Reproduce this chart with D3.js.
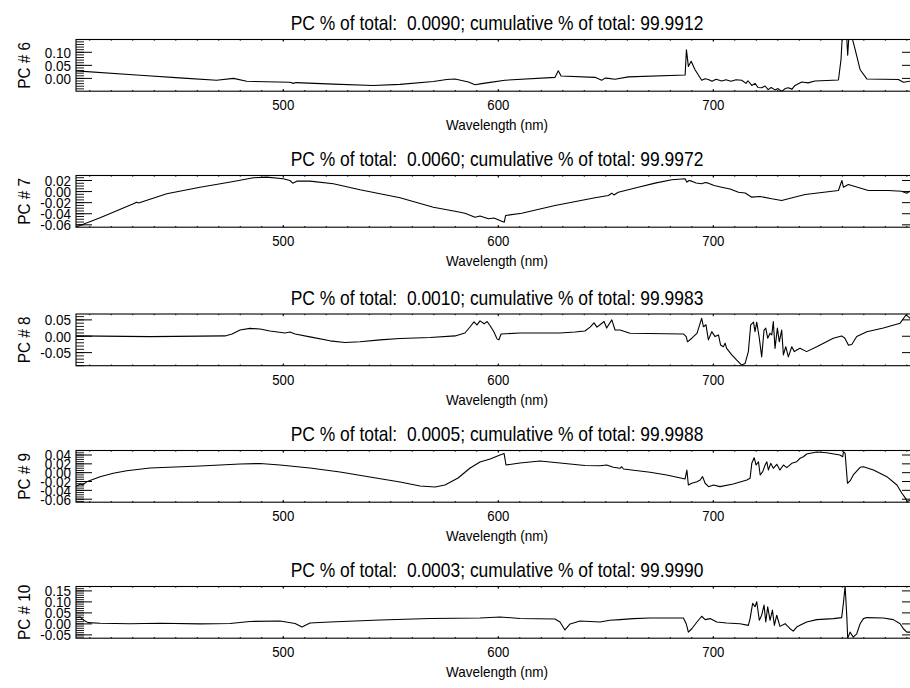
<!DOCTYPE html>
<html><head><meta charset="utf-8">
<script src="https://cdn.jsdelivr.net/npm/d3@7"></script>
<style>body{margin:0;background:#fff;overflow:hidden}text{font-family:"Liberation Sans",Arial,Helvetica,sans-serif;fill:#000}</style>
</head><body>
<svg id="chart" width="910" height="688"></svg>
<script>
// ---------- data ----------
const panelNames = ["PC # 6", "PC # 7", "PC # 8", "PC # 9", "PC # 10"];
const pctTotal = ["0.0090", "0.0060", "0.0010", "0.0005", "0.0003"];
const cumPct = ["99.9912", "99.9972", "99.9983", "99.9988", "99.9990"];
const xTickValues = [500, 600, 700];
const xTitle = "Wavelength (nm)";
const wlRange = [403.6, 795.2];
const yRanges = [[-0.049, 0.149], [-0.0643, 0.029], [-0.090, 0.068], [-0.0668, 0.0502], [-0.065, 0.170]];
const yMajorSteps = [0.05, 0.02, 0.05, 0.02, 0.05];
const yMinorCounts = [5, 4, 5, 4, 5];

// [wavelength nm, PC loading]
const pc6 = [[403.6,0.029],[433.4,0.012],[453.5,0.001],[469.0,-0.007],[476.8,0.000],[483.0,-0.011],[503.1,-0.015],[504.7,-0.019],[505.9,-0.016],[523.3,-0.022],[541.9,-0.027],[554.3,-0.023],[569.8,-0.012],[576.0,-0.004],[579.9,-0.002],[586.1,-0.014],[589.2,-0.024],[592.3,-0.020],[595.4,-0.016],[603.1,-0.007],[626.4,0.004],[627.9,0.029],[629.2,0.009],[645.0,0.004],[648.1,-0.007],[649.7,0.001],[651.2,0.000],[654.3,-0.003],[660.5,0.006],[686.9,0.013],[687.5,0.110],[688.4,0.046],[689.7,0.066],[691.5,0.033],[694.6,-0.007],[696.2,-0.001],[697.7,-0.004],[699.4,-0.011],[701.3,-0.003],[703.9,-0.010],[705.9,-0.005],[708.2,-0.011],[710.6,-0.005],[713.2,-0.007],[715.2,-0.019],[716.1,-0.009],[717.9,-0.027],[719.4,-0.019],[720.8,-0.035],[722.5,-0.036],[724.1,-0.029],[725.5,-0.043],[726.9,-0.035],[728.7,-0.044],[730.1,-0.039],[731.8,-0.050],[733.4,-0.039],[734.9,-0.036],[736.6,-0.041],[738.0,-0.027],[741.1,-0.014],[744.1,-0.017],[747.3,-0.010],[758.2,-0.006],[759.4,0.073],[760.0,0.165],[762.1,0.150],[762.5,0.089],[763.1,0.165],[764.4,0.160],[765.9,0.113],[768.3,0.033],[771.4,-0.002],[786.1,-0.004],[788.4,-0.015],[791.5,-0.011],[795.2,-0.007]];

const pc7 = [[403.6,-0.0639],[414.8,-0.0473],[430.3,-0.0220],[431.8,-0.0191],[432.7,-0.0206],[445.8,-0.0040],[461.3,0.0079],[476.8,0.0182],[486.1,0.0249],[492.3,0.0260],[500.0,0.0231],[503.1,0.0200],[504.4,0.0152],[506.3,0.0188],[512.4,0.0188],[523.3,0.0141],[535.7,0.0032],[554.3,-0.0112],[569.8,-0.0282],[579.9,-0.0354],[584.5,-0.0390],[589.2,-0.0462],[591.5,-0.0440],[595.4,-0.0491],[598.0,-0.0477],[601.6,-0.0534],[602.8,-0.0552],[603.4,-0.0431],[610.9,-0.0390],[626.4,-0.0251],[645.0,-0.0112],[651.2,-0.0070],[652.8,-0.0029],[653.8,-0.0061],[655.8,-0.0011],[665.1,0.0079],[672.9,0.0152],[680.7,0.0213],[686.9,0.0231],[687.7,0.0170],[688.7,0.0200],[690.0,0.0188],[692.0,0.0155],[694.6,0.0141],[696.2,0.0164],[697.7,0.0152],[700.4,0.0110],[703.9,0.0079],[707.8,0.0047],[711.7,-0.0011],[714.8,-0.0025],[717.9,-0.0101],[721.7,-0.0088],[727.2,-0.0130],[731.8,-0.0161],[734.9,-0.0130],[742.7,-0.0052],[758.2,0.0020],[759.8,0.0200],[760.5,0.0079],[762.8,0.0128],[765.9,0.0092],[772.1,0.0020],[781.4,0.0020],[787.6,0.0007],[790.0,-0.0029],[791.5,0.0007],[795.2,0.0020]];

const pc8 = [[403.6,0.001],[438.0,-0.001],[472.9,0.001],[476.2,0.007],[479.9,0.019],[484.5,0.024],[489.2,0.022],[493.8,0.016],[500.8,0.010],[503.1,0.013],[505.5,0.007],[512.4,-0.002],[521.7,-0.014],[528.7,-0.019],[535.7,-0.017],[545.0,-0.011],[554.3,-0.007],[568.3,-0.004],[579.9,0.001],[584.5,0.010],[586.9,0.029],[588.7,0.044],[590.1,0.035],[591.5,0.047],[593.4,0.038],[594.8,0.045],[596.2,0.032],[598.0,0.013],[599.4,-0.008],[600.3,-0.011],[601.3,0.007],[610.1,0.010],[628.7,0.010],[635.7,0.013],[640.3,0.016],[642.7,0.028],[644.5,0.041],[645.9,0.028],[647.3,0.035],[649.2,0.045],[650.4,0.025],[652.8,0.050],[654.3,0.019],[656.6,0.019],[661.3,0.009],[686.1,0.007],[687.4,-0.001],[688.0,-0.017],[690.0,-0.006],[692.4,0.009],[693.9,0.040],[694.6,0.055],[695.4,0.029],[696.6,0.035],[697.7,-0.011],[699.3,0.014],[700.8,-0.001],[702.4,0.004],[703.4,-0.027],[704.7,-0.032],[705.5,-0.021],[706.2,-0.037],[708.6,-0.057],[710.9,-0.073],[713.2,-0.088],[714.8,-0.083],[716.3,-0.047],[717.4,0.035],[718.7,0.043],[719.4,0.014],[720.2,0.043],[721.4,-0.006],[722.5,-0.063],[723.6,0.019],[724.4,0.025],[725.3,-0.006],[726.4,0.009],[727.2,0.004],[727.9,0.045],[728.7,-0.037],[729.8,0.025],[730.7,-0.017],[731.8,0.019],[732.6,-0.057],[733.7,-0.032],[734.9,-0.063],[736.5,-0.032],[737.7,-0.047],[738.8,-0.042],[740.3,-0.037],[743.4,-0.047],[748.1,-0.032],[755.8,-0.006],[759.7,0.001],[761.2,-0.006],[762.8,-0.027],[764.4,-0.025],[766.7,-0.001],[771.4,0.014],[779.1,0.025],[786.9,0.040],[789.6,0.065],[790.7,0.060],[791.5,0.055],[795.2,0.050]];

const pc9 = [[403.6,-0.0316],[405.5,-0.0255],[406.9,-0.0278],[408.6,-0.0203],[414.8,-0.0090],[420.9,-0.0014],[427.2,0.0045],[438.0,0.0106],[461.3,0.0151],[479.9,0.0196],[489.2,0.0208],[498.5,0.0174],[512.4,0.0106],[526.4,0.0016],[540.3,-0.0097],[554.3,-0.0210],[563.6,-0.0300],[570.6,-0.0323],[575.2,-0.0278],[581.3,-0.0120],[586.9,0.0106],[591.5,0.0242],[596.2,0.0309],[600.8,0.0400],[602.7,0.0433],[603.6,0.0174],[610.1,0.0219],[619.4,0.0264],[628.7,0.0219],[640.3,0.0163],[647.3,0.0158],[650.4,0.0174],[653.5,0.0122],[656.6,0.0099],[657.4,0.0135],[658.2,0.0084],[670.6,0.0009],[678.3,-0.0052],[686.9,-0.0142],[687.7,0.0061],[688.4,-0.0278],[690.0,-0.0239],[692.4,-0.0203],[693.9,-0.0165],[695.0,-0.0090],[696.2,-0.0239],[697.8,-0.0316],[700.1,-0.0278],[703.1,-0.0316],[709.3,-0.0255],[715.6,-0.0165],[717.1,-0.0126],[717.9,0.0212],[719.0,0.0339],[719.9,0.0174],[721.0,0.0248],[721.8,-0.0052],[723.0,0.0023],[724.1,0.0174],[724.9,0.0248],[725.6,0.0061],[726.7,0.0212],[727.9,0.0099],[729.5,0.0190],[731.0,0.0061],[732.6,0.0174],[734.2,0.0113],[736.5,0.0212],[738.8,0.0248],[740.3,0.0325],[741.9,0.0361],[743.4,0.0422],[748.1,0.0467],[752.7,0.0451],[758.9,0.0400],[760.2,0.0361],[760.5,0.0474],[761.3,0.0438],[762.4,-0.0239],[763.6,-0.0187],[765.1,-0.0052],[768.3,0.0122],[769.8,0.0135],[774.5,0.0061],[780.7,-0.0090],[785.4,-0.0278],[787.7,-0.0465],[789.2,-0.0564],[790.3,-0.0655],[791.5,-0.0616],[795.2,-0.0661]];

const pc10 = [[403.6,0.0284],[405.5,0.0316],[407.0,0.0180],[409.2,0.0058],[414.8,0.0030],[428.7,0.0008],[442.7,0.0030],[461.3,-0.0001],[475.2,0.0021],[484.5,0.0112],[498.5,0.0135],[505.5,0.0021],[508.7,-0.0138],[512.4,0.0044],[521.7,0.0089],[545.0,0.0180],[568.3,0.0248],[591.5,0.0271],[600.8,0.0316],[610.1,0.0248],[626.4,0.0225],[628.7,0.0089],[631.0,-0.0274],[633.4,-0.0001],[638.0,0.0135],[647.3,0.0087],[651.9,0.0164],[656.6,0.0195],[662.8,0.0241],[670.6,0.0271],[686.1,0.0271],[687.4,0.0010],[688.4,-0.0374],[690.0,-0.0220],[692.4,0.0087],[694.6,0.0348],[696.2,0.0195],[698.5,0.0241],[701.6,0.0087],[706.2,0.0041],[712.4,0.0010],[716.3,-0.0066],[717.1,0.0241],[718.3,0.0932],[719.4,0.0778],[720.2,0.1009],[721.4,0.0164],[722.5,0.0394],[723.6,0.0855],[724.4,0.0087],[725.3,0.0778],[726.4,0.0164],[727.5,0.0625],[728.4,-0.0066],[729.5,0.0394],[731.0,-0.0113],[733.4,0.0010],[735.7,-0.0220],[737.2,-0.0328],[738.8,-0.0143],[740.3,-0.0066],[743.4,0.0087],[748.1,0.0195],[755.8,0.0241],[759.7,0.0287],[760.5,0.0932],[761.3,0.172],[762.1,0.0318],[762.5,-0.066],[763.6,-0.0374],[765.1,-0.0604],[766.7,-0.0450],[768.3,0.0010],[769.8,0.0241],[771.4,0.0287],[779.1,0.0271],[783.7,0.0195],[786.9,0.0010],[788.4,-0.0220],[790.0,-0.0374],[791.5,-0.0374],[795.2,-0.0400]];

const series = [pc6, pc7, pc8, pc9, pc10];

// ---------- layout ----------
const left = 76, right = 918, boxH = 51.7;
const tops = [39.5, 175.5, 314, 450.5, 586.5];
const FONT_TICK = 15, FONT_TITLE = 20, FONT_YT = 17;

const svg = d3.select("#chart");
const defs = svg.append("defs");
const x = d3.scaleLinear().domain(wlRange).range([left, right]);

function txt(g, str, tx, ty, size, anchor, sx, rot, dy) {
  return g.append("text")
    .attr("transform", `translate(${tx},${ty}) rotate(${rot || 0}) scale(${sx},1)`)
    .attr("text-anchor", anchor)
    .attr("dy", dy || 0)
    .style("font-size", size + "px")
    .text(str);
}
function ln(g, x1, y1, x2, y2, w) {
  g.append("line").attr("x1", x1).attr("y1", y1).attr("x2", x2).attr("y2", y2)
    .attr("stroke", "#000").attr("stroke-width", w || 1);
}

series.forEach((data, i) => {
  const top = tops[i], bot = top + boxH;
  const [lo, hi] = yRanges[i];
  const y = d3.scaleLinear().domain([lo, hi]).range([bot, top]);
  const g = svg.append("g");

  defs.append("clipPath").attr("id", "clip" + i).append("rect")
    .attr("x", left).attr("y", top).attr("width", right - left).attr("height", boxH);

  g.append("path").datum(data)
    .attr("clip-path", `url(#clip${i})`)
    .attr("fill", "none").attr("stroke", "#000").attr("stroke-width", 1.1)
    .attr("stroke-linejoin", "round")
    .attr("d", d3.line().x(d => x(d[0])).y(d => y(d[1])));

  g.append("rect").attr("x", left).attr("y", top).attr("width", right - left).attr("height", boxH)
    .attr("fill", "none").attr("stroke", "#000").attr("stroke-width", 1.1);

  // y ticks
  const step = yMajorSteps[i], mstep = step / yMinorCounts[i];
  const majors = d3.range(Math.ceil(lo / step - 1e-9), Math.floor(hi / step + 1e-9) + 1).map(k => k * step);
  const minors = d3.range(Math.ceil(lo / mstep - 1e-9), Math.floor(hi / mstep + 1e-9) + 1).map(k => k * mstep);
  minors.forEach(v => {
    const yy = y(v);
    ln(g, left, yy, left + 8, yy, 0.9);
    ln(g, right - 8, yy, right, yy, 0.9);
  });
  majors.forEach(v => {
    const yy = y(v);
    ln(g, left, yy, left + 16, yy, 1);
    ln(g, right - 16, yy, right, yy, 1);
    const lab = (Math.abs(v) < 1e-12 ? 0 : v).toFixed(2);
    txt(g, lab, left - 5, yy, FONT_TICK, "end", 0.9, 0, "0.36em");
  });

  // x ticks
  const xMinor = d3.range(Math.ceil(wlRange[0] / 10), Math.floor(wlRange[1] / 10) + 1).map(k => k * 10);
  xMinor.forEach(v => {
    const xx = x(v);
    ln(g, xx, bot, xx, bot - 1.2, 1);
    ln(g, xx, top, xx, top + 1.2, 1);
  });
  xTickValues.forEach(v => {
    const xx = x(v);
    ln(g, xx, bot, xx, bot - 2.2, 1);
    ln(g, xx, top, xx, top + 2.2, 1);
    txt(g, String(v), xx, bot + 19, FONT_TICK, "middle", 0.88, 0);
  });

  const cx = (left + right) / 2;
  txt(g, xTitle, cx, bot + 39, FONT_TICK, "middle", 0.9, 0);
  txt(g, `PC % of total:  ${pctTotal[i]}; cumulative % of total: ${cumPct[i]}`, cx, top - 9.5, FONT_TITLE, "middle", 0.872, 0)
    .style("white-space", "pre").attr("xml:space", "preserve");
  txt(g, panelNames[i], 30, (top + bot) / 2, FONT_YT, "middle", 0.9, -90);
});
</script>
</body></html>
